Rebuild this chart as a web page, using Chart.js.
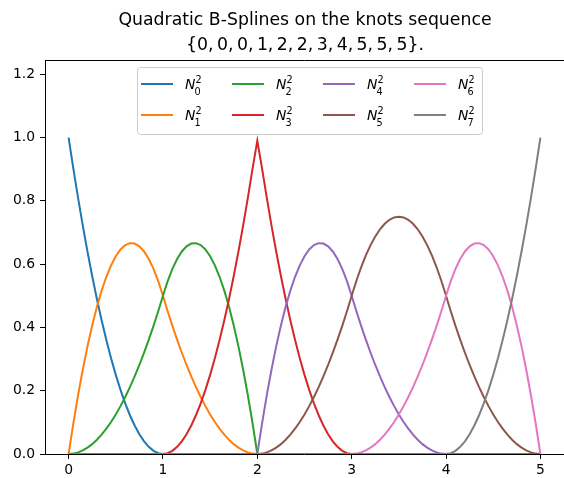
<!DOCTYPE html>
<html>
<head>
<meta charset="utf-8">
<script src="https://cdn.jsdelivr.net/npm/chart.js@4.4.1/dist/chart.umd.min.js"></script>
<style>
  html, body { margin: 0; padding: 0; background: #fff; overflow: hidden; }
  #bspline_chart { display: block; }
</style>
</head>
<body>
<canvas id="bspline_chart" width="564" height="478"></canvas>
<script>
// sample positions on [0, 5]
const xs = [
  0, 0.05, 0.1, 0.15, 0.2, 0.25, 0.3, 0.35, 0.4, 0.45, 0.5, 0.55, 0.6, 0.65, 0.7, 0.75, 0.8, 0.85, 0.9, 0.95, 1,
  1.05, 1.1, 1.15, 1.2, 1.25, 1.3, 1.35, 1.4, 1.45, 1.5, 1.55, 1.6, 1.65, 1.7, 1.75, 1.8, 1.85, 1.9, 1.95, 2,
  2.05, 2.1, 2.15, 2.2, 2.25, 2.3, 2.35, 2.4, 2.45, 2.5, 2.55, 2.6, 2.65, 2.7, 2.75, 2.8, 2.85, 2.9, 2.95, 3,
  3.05, 3.1, 3.15, 3.2, 3.25, 3.3, 3.35, 3.4, 3.45, 3.5, 3.55, 3.6, 3.65, 3.7, 3.75, 3.8, 3.85, 3.9, 3.95, 4,
  4.05, 4.1, 4.15, 4.2, 4.25, 4.3, 4.35, 4.4, 4.45, 4.5, 4.55, 4.6, 4.65, 4.7, 4.75, 4.8, 4.85, 4.9, 4.95, 5
];

const n0 = [
  1, .9025, .81, .7225, .64, .5625, .49, .4225, .36, .3025, .25, .2025, .16, .1225, .09, .0625, .04, .0225, .01, .0025, 0,
  0, 0, 0, 0, 0, 0, 0, 0, 0, 0, 0, 0, 0, 0, 0, 0, 0, 0, 0, 0,
  0, 0, 0, 0, 0, 0, 0, 0, 0, 0, 0, 0, 0, 0, 0, 0, 0, 0, 0, 0,
  0, 0, 0, 0, 0, 0, 0, 0, 0, 0, 0, 0, 0, 0, 0, 0, 0, 0, 0, 0,
  0, 0, 0, 0, 0, 0, 0, 0, 0, 0, 0, 0, 0, 0, 0, 0, 0, 0, 0, 0
];
const n1 = [
  0, .09625, .185, .26625, .34, .40625, .465, .51625, .56, .59625, .625, .64625, .66, .66625, .665, .65625, .64, .61625, .585, .54625, .5,
  .45125, .405, .36125, .32, .28125, .245, .21125, .18, .15125, .125, .10125, .08, .06125, .045, .03125, .02, .01125, .005, .00125, 0,
  0, 0, 0, 0, 0, 0, 0, 0, 0, 0, 0, 0, 0, 0, 0, 0, 0, 0, 0, 0,
  0, 0, 0, 0, 0, 0, 0, 0, 0, 0, 0, 0, 0, 0, 0, 0, 0, 0, 0, 0,
  0, 0, 0, 0, 0, 0, 0, 0, 0, 0, 0, 0, 0, 0, 0, 0, 0, 0, 0, 0
];
const n2 = [
  0, .00125, .005, .01125, .02, .03125, .045, .06125, .08, .10125, .125, .15125, .18, .21125, .245, .28125, .32, .36125, .405, .45125, .5,
  .54625, .585, .61625, .64, .65625, .665, .66625, .66, .64625, .625, .59625, .56, .51625, .465, .40625, .34, .26625, .185, .09625, 0,
  0, 0, 0, 0, 0, 0, 0, 0, 0, 0, 0, 0, 0, 0, 0, 0, 0, 0, 0, 0,
  0, 0, 0, 0, 0, 0, 0, 0, 0, 0, 0, 0, 0, 0, 0, 0, 0, 0, 0, 0,
  0, 0, 0, 0, 0, 0, 0, 0, 0, 0, 0, 0, 0, 0, 0, 0, 0, 0, 0, 0
];
const n3 = [
  0, 0, 0, 0, 0, 0, 0, 0, 0, 0, 0, 0, 0, 0, 0, 0, 0, 0, 0, 0, 0,
  .0025, .01, .0225, .04, .0625, .09, .1225, .16, .2025, .25, .3025, .36, .4225, .49, .5625, .64, .7225, .81, .9025, .99,
  .9025, .81, .7225, .64, .5625, .49, .4225, .36, .3025, .25, .2025, .16, .1225, .09, .0625, .04, .0225, .01, .0025, 0,
  0, 0, 0, 0, 0, 0, 0, 0, 0, 0, 0, 0, 0, 0, 0, 0, 0, 0, 0, 0,
  0, 0, 0, 0, 0, 0, 0, 0, 0, 0, 0, 0, 0, 0, 0, 0, 0, 0, 0, 0
];
const n4 = [
  0, 0, 0, 0, 0, 0, 0, 0, 0, 0, 0, 0, 0, 0, 0, 0, 0, 0, 0, 0, 0,
  0, 0, 0, 0, 0, 0, 0, 0, 0, 0, 0, 0, 0, 0, 0, 0, 0, 0, 0, 0,
  .09625, .185, .26625, .34, .40625, .465, .51625, .56, .59625, .625, .64625, .66, .66625, .665, .65625, .64, .61625, .585, .54625, .5,
  .45125, .405, .36125, .32, .28125, .245, .21125, .18, .15125, .125, .10125, .08, .06125, .045, .03125, .02, .01125, .005, .00125, 0,
  0, 0, 0, 0, 0, 0, 0, 0, 0, 0, 0, 0, 0, 0, 0, 0, 0, 0, 0, 0
];
const n5 = [
  0, 0, 0, 0, 0, 0, 0, 0, 0, 0, 0, 0, 0, 0, 0, 0, 0, 0, 0, 0, 0,
  0, 0, 0, 0, 0, 0, 0, 0, 0, 0, 0, 0, 0, 0, 0, 0, 0, 0, 0, 0,
  .00125, .005, .01125, .02, .03125, .045, .06125, .08, .10125, .125, .15125, .18, .21125, .245, .28125, .32, .36125, .405, .45125, .5,
  .5475, .59, .6275, .66, .6875, .71, .7275, .74, .7475, .75, .7475, .74, .7275, .71, .6875, .66, .6275, .59, .5475, .5,
  .45125, .405, .36125, .32, .28125, .245, .21125, .18, .15125, .125, .10125, .08, .06125, .045, .03125, .02, .01125, .005, .00125, 0
];
const n6 = [
  0, 0, 0, 0, 0, 0, 0, 0, 0, 0, 0, 0, 0, 0, 0, 0, 0, 0, 0, 0, 0,
  0, 0, 0, 0, 0, 0, 0, 0, 0, 0, 0, 0, 0, 0, 0, 0, 0, 0, 0, 0,
  0, 0, 0, 0, 0, 0, 0, 0, 0, 0, 0, 0, 0, 0, 0, 0, 0, 0, 0, 0,
  .00125, .005, .01125, .02, .03125, .045, .06125, .08, .10125, .125, .15125, .18, .21125, .245, .28125, .32, .36125, .405, .45125, .5,
  .54625, .585, .61625, .64, .65625, .665, .66625, .66, .64625, .625, .59625, .56, .51625, .465, .40625, .34, .26625, .185, .09625, 0
];
const n7 = [
  0, 0, 0, 0, 0, 0, 0, 0, 0, 0, 0, 0, 0, 0, 0, 0, 0, 0, 0, 0, 0,
  0, 0, 0, 0, 0, 0, 0, 0, 0, 0, 0, 0, 0, 0, 0, 0, 0, 0, 0, 0,
  0, 0, 0, 0, 0, 0, 0, 0, 0, 0, 0, 0, 0, 0, 0, 0, 0, 0, 0, 0,
  0, 0, 0, 0, 0, 0, 0, 0, 0, 0, 0, 0, 0, 0, 0, 0, 0, 0, 0, 0,
  .0025, .01, .0225, .04, .0625, .09, .1225, .16, .2025, .25, .3025, .36, .4225, .49, .5625, .64, .7225, .81, .9025, 1
];

const series = [n0, n1, n2, n3, n4, n5, n6, n7];
const seriesIndex = ["0", "1", "2", "3", "4", "5", "6", "7"];
const seriesDegree = "2";
const colors = ["#1f77b4", "#ff7f0e", "#2ca02c", "#d62728", "#9467bd", "#8c564b", "#e377c2", "#7f7f7f"];
const xTicks = [0, 1, 2, 3, 4, 5];
const yTicks = [0, 0.2, 0.4, 0.6, 0.8, 1.0, 1.2];
const titleLines = ["Quadratic B-Splines on the knots sequence", "{0,\u20090,\u20090,\u20091,\u20092,\u20092,\u20093,\u20094,\u20095,\u20095,\u20095}."];

const FONT = "DejaVu Sans";

// two-line title, centred over the axes like matplotlib
const axesTitle = {
  id: "axesTitle",
  afterDraw(chart) {
    const c = chart.ctx;
    c.save();
    c.fillStyle = "#000";
    c.textAlign = "center";
    c.textBaseline = "middle";
    c.font = "17.3px '" + FONT + "'";
    titleLines.forEach((t, i) => c.fillText(t, 305, 20.5 + i * 25));
    c.restore();
  }
};

// matplotlib style legend: 4 columns, filled column by column, math labels
const mathLegend = {
  id: "mathLegend",
  afterDraw(chart) {
    const c = chart.ctx;
    c.save();
    const bx = 137.5, by = 67.5, bw = 345, bh = 67, r = 3;
    c.beginPath();
    c.moveTo(bx + r, by);
    c.arcTo(bx + bw, by, bx + bw, by + bh, r);
    c.arcTo(bx + bw, by + bh, bx, by + bh, r);
    c.arcTo(bx, by + bh, bx, by, r);
    c.arcTo(bx, by, bx + bw, by, r);
    c.closePath();
    c.fillStyle = "rgba(255,255,255,0.8)";
    c.fill();
    c.strokeStyle = "#cccccc";
    c.lineWidth = 1;
    c.stroke();

    series.forEach((s, i) => {
      const col = Math.floor(i / 2), row = i % 2;
      const x0 = 141 + col * 91;
      const y = 84 + row * 31;
      c.strokeStyle = colors[i];
      c.lineWidth = 2;
      c.beginPath();
      c.moveTo(x0, y);
      c.lineTo(x0 + 32, y);
      c.stroke();

      c.fillStyle = "#000";
      c.textBaseline = "alphabetic";
      c.textAlign = "left";
      c.font = "italic 13.9px '" + FONT + "'";
      const tx = x0 + 44;
      c.fillText("N", tx, y + 5);
      const w = c.measureText("N").width;
      c.font = "9.7px '" + FONT + "'";
      c.fillText(seriesDegree, tx + w, y - 1.5);
      c.fillText(seriesIndex[i], tx + w - 1, y + 10.5);
    });
    c.restore();
  }
};

// left, bottom and top spines drawn above the curves (right one falls off the page)
const spines = {
  id: "spines",
  afterDatasetsDraw(chart) {
    const a = chart.chartArea;
    const c = chart.ctx;
    c.save();
    c.strokeStyle = "#000";
    c.lineWidth = 1;
    c.beginPath();
    c.moveTo(a.left + 0.5, a.top);
    c.lineTo(a.left + 0.5, a.bottom + 1);
    c.stroke();
    c.beginPath();
    c.moveTo(a.left, a.bottom + 0.5);
    c.lineTo(chart.width, a.bottom + 0.5);
    c.stroke();
    c.beginPath();
    c.moveTo(a.left, a.top + 0.5);
    c.lineTo(chart.width, a.top + 0.5);
    c.stroke();
    c.restore();
  }
};

const datasets = series.map((vals, i) => ({
  label: "N" + seriesIndex[i],
  data: xs.map((x, j) => ({ x: x, y: vals[j] })),
  borderColor: colors[i],
  backgroundColor: colors[i],
  borderWidth: 2,
  pointRadius: 0,
  fill: false,
  tension: 0,
  order: series.length - 1 - i,
}));

const tickFont = { family: FONT, size: 13.9 };

const bspline_chart = new Chart(document.getElementById("bspline_chart"), {
  type: "line",
  data: { datasets: datasets },
  options: {
    responsive: false,
    animation: false,
    devicePixelRatio: 1,
    // negative right padding pushes the plot's right edge (x = 5.25) past the page
    layout: { padding: { top: 60, right: -9, left: 0, bottom: 0 } },
    plugins: {
      legend: { display: false },
      tooltip: { enabled: false },
      title: { display: false },
    },
    scales: {
      x: {
        type: "linear",
        min: -0.25,
        max: 5.25,
        afterBuildTicks: (s) => { s.ticks = xTicks.map((v) => ({ value: v })); },
        afterFit: (s) => { s.height = 24; },
        grid: { display: true, drawOnChartArea: false, drawTicks: true, tickLength: 5, tickWidth: 1, tickColor: "#000" },
        border: { display: false },
        ticks: { color: "#000", font: tickFont, padding: 3, maxRotation: 0, autoSkip: false, callback: (v) => String(v) },
      },
      y: {
        min: 0,
        max: 1.245,
        afterBuildTicks: (s) => { s.ticks = yTicks.map((v) => ({ value: v })); },
        afterFit: (s) => { s.width = 45; },
        grid: { display: true, drawOnChartArea: false, drawTicks: true, tickLength: 5, tickWidth: 1, tickColor: "#000" },
        border: { display: false },
        ticks: { color: "#000", font: tickFont, padding: 5, autoSkip: false, callback: (v) => v.toFixed(1) },
      },
    },
  },
  plugins: [axesTitle, mathLegend, spines],
});
</script>
</body>
</html>
